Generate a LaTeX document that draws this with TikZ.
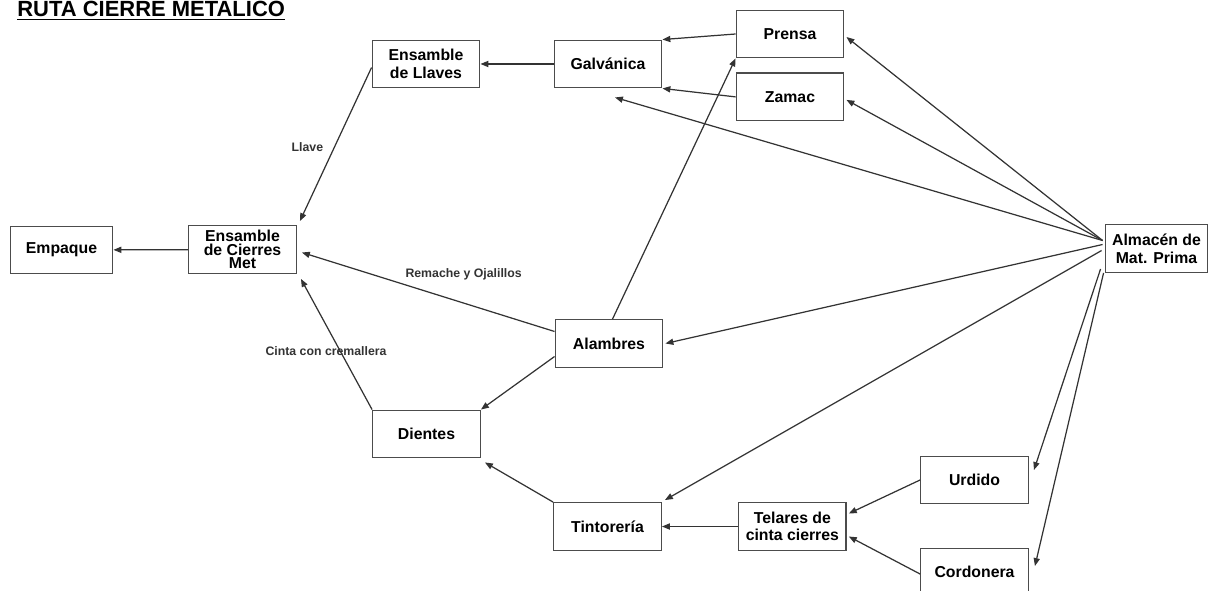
\documentclass[tikz,border=0pt]{standalone}
\usepackage{fontspec}
\setmainfont{Liberation Sans}
\usetikzlibrary{positioning, arrows.meta, calc}

\begin{document}
\begin{tikzpicture}[x=0.02cm, y=-0.02cm,
  box/.style={draw=black!70, line width=0.8pt, font=\bfseries\fontsize{9}{10}\selectfont, align=center, minimum width=2.15cm, minimum height=0.95cm, inner sep=1pt},
  lbl/.style={font=\bfseries\fontsize{7}{8}\selectfont, inner sep=1pt},
  arr/.style={-{Triangle[length=4.5pt, width=3.5pt]}, line width=0.7pt, black!80},
]
\useasboundingbox (0,0) rectangle (1216,591);

% --- Title ---
\node[anchor=base west, font=\bfseries\fontsize{12.5}{14}\selectfont, inner sep=0pt] (titulo) at (17,17) {\underline{RUTA CIERRE METALICO}};

% --- Boxes ---
\node[box] (llaves) at (426,64) {Ensamble\\de Llaves};
\node[box] (galv) at (608,64) {Galvánica};
\node[box] (prensa) at (790,34) {Prensa};
\node[box, below=0.28cm of prensa] (zamac) {Zamac};
\node[box, minimum width=2.05cm] (empaque) at (61.5,250) {Empaque};
\node[box, font=\bfseries\fontsize{9}{7.8}\selectfont] (cierres) at (242.5,249.5) {Ensamble\\de Cierres\\Met};
\node[box, minimum width=2.05cm] (almacen) at (1156.5,248.5) {Almacén de\\Mat. Prima};
\node[box] (alambres) at (609,343.5) {Alambres};
\node[box] (dientes) at (426.5,434) {Dientes};
\node[box] (tinto) at (607.5,526.5) {Tintorería};
\node[box, right=1.52cm of tinto] (telares) {Telares de\\cinta cierres};
\node[box] (urdido) at (974.5,480) {Urdido};
\node[box] (cordonera) at (974.5,572) {Cordonera};

% --- Inner flow ---
\draw[arr] (galv) -- (llaves);
\draw[arr] (prensa.west) -- (galv.north east);
\draw[arr] (zamac.west) -- (galv.south east);
\draw[arr] ([yshift=-2pt]llaves.west) -- ([shift={(3,-4)}]cierres.north east) node[lbl, left=5pt, pos=.52] {Llave};
\draw[arr] ([shift={(0,-12)}]alambres.west) -- ([shift={(5,3)}]cierres.east) node[lbl, above=12pt, pos=.36] {Remache y Ojalillos};
\draw[arr] (dientes.north west) -- ([shift={(4,5)}]cierres.south east) node[lbl, pos=.45, xshift=-0.28cm] {Cinta con cremallera};
\draw[arr] (cierres) -- (empaque);
\draw[arr] ([xshift=2pt]alambres.north) -- (prensa.south west);
\draw[arr] ([shift={(0,13)}]alambres.west) -- (dientes.north east);
\draw[arr] (tinto.north west) -- ([shift={(4,4)}]dientes.south east);
\draw[arr] (telares) -- (tinto);
\draw[arr] (urdido.west) -- ([shift={(2,-13)}]telares.east);
\draw[arr] ([shift={(0,2)}]cordonera.west) -- ([shift={(2,10)}]telares.east);

% --- Almacen fan-out ---
\coordinate (a1) at ([shift={(-2,-8)}]almacen.west);
\coordinate (a2) at ([shift={(-2,-4)}]almacen.west);
\coordinate (a3) at ([shift={(-3,2)}]almacen.west);
\coordinate (a4) at ([shift={(-4,-4)}]almacen.south west);
\coordinate (a5) at ([shift={(-1,0)}]almacen.south west);

\foreach \dst in {prensa, zamac} { \draw[arr] (a1) -- ([shift={(2,3)}]\dst.east); }
\draw[arr] (a1) -- ([shift={(7,9)}]galv.south);
\draw[arr] (a2) -- ([shift={(2,0)}]alambres.east);
\draw[arr] (a3) -- ([shift={(3,-2)}]tinto.north east);
\draw[arr] (a4) -- ([shift={(5,-10)}]urdido.east);
\draw[arr] (a5) -- ([shift={(6,-6)}]cordonera.east);

\end{tikzpicture}
\end{document}
